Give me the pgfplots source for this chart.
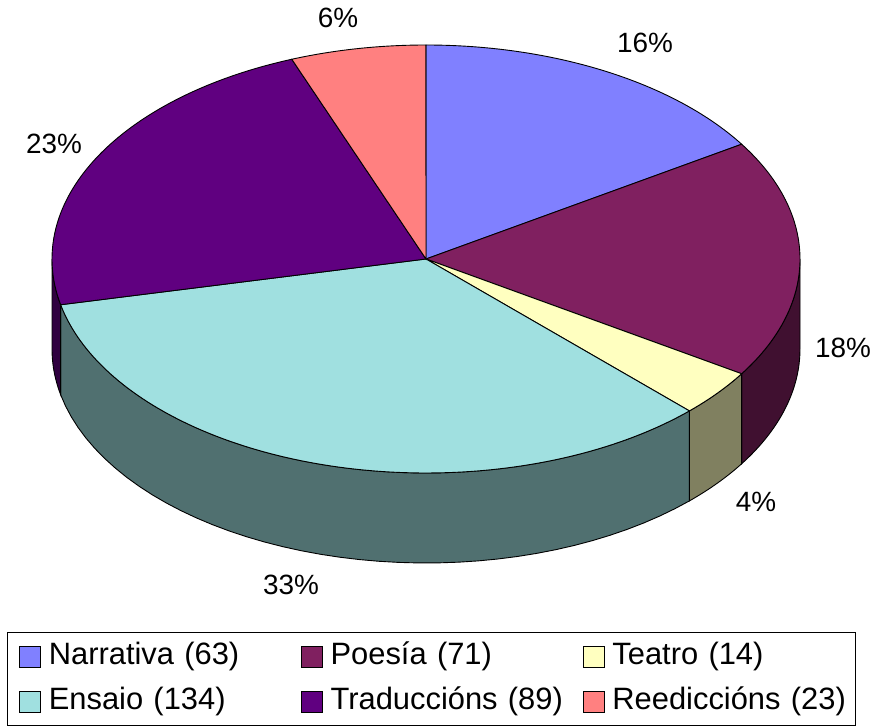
\documentclass[border=0pt]{standalone}
\usepackage{fontspec}
\setmainfont{Liberation Sans}
\usepackage{pgfplots}
\pgfplotsset{compat=1.18}

\definecolor{cNar}{HTML}{8080FF}
\definecolor{cPoe}{HTML}{802060}
\definecolor{cPoeS}{HTML}{401030}
\definecolor{cTea}{HTML}{FFFFC0}
\definecolor{cTeaS}{HTML}{808060}
\definecolor{cEns}{HTML}{A0E0E0}
\definecolor{cEnsS}{HTML}{507070}
\definecolor{cTra}{HTML}{600080}
\definecolor{cTraS}{HTML}{300040}
\definecolor{cRee}{HTML}{FF8080}

% data
\def\vNar{63}\def\vPoe{71}\def\vTea{14}\def\vEns{134}\def\vTra{89}\def\vRee{23}
\pgfmathsetmacro\tot{\vNar+\vPoe+\vTea+\vEns+\vTra+\vRee}
\pgfmathsetmacro\aA{90}
\pgfmathsetmacro\aB{\aA-(\vNar/\tot)*360}
\pgfmathsetmacro\aC{\aB-(\vPoe/\tot)*360}
\pgfmathsetmacro\aD{\aC-(\vTea/\tot)*360}
\pgfmathsetmacro\aE{\aD-(\vEns/\tot)*360}
\pgfmathsetmacro\aF{\aE-(\vTra/\tot)*360}
\pgfmathsetmacro\aG{\aF-(\vRee/\tot)*360}
% geometry (pixel units)
\def\cx{426}\def\cy{467}\def\rx{374}\def\ry{214}\def\dep{90}

\newcommand\side[3]{%
\addplot[forget plot, fill=#1, draw=black, line width=0.9bp, domain=0:81, samples=82, variable=\t]
 ({\cx+\rx*cos(\t<40.5 ? (#2)+((#3)-(#2))*\t/40 : (#3)+((#2)-(#3))*(\t-41)/40)},
  {(\t<40.5 ? \cy : \cy-\dep)+\ry*sin(\t<40.5 ? (#2)+((#3)-(#2))*\t/40 : (#3)+((#2)-(#3))*(\t-41)/40)}) -- cycle;
}
\newcommand\topslice[3]{%
\addplot[fill=#1, draw=black, line width=0.9bp, domain=#3:#2, samples=100, variable=\t]
 ({\cx+\rx*cos(\t)},{\cy+\ry*sin(\t)}) -- (axis cs:\cx,\cy) -- cycle;
}

\begin{document}
\begin{tikzpicture}
\begin{axis}[
  x=1bp, y=1bp, xmin=0, xmax=876, ymin=0, ymax=726,
  hide axis, clip=false, scale only axis,
  legend columns=3,
  legend image code/.code={\draw[#1, draw=black, line width=0.8bp] (0bp,-10.5bp) rectangle (21bp,10.5bp);},
  legend style={at={(axis cs:19,84)}, anchor=north west, draw=none, fill=none,
    inner sep=0pt, outer sep=0pt, font=\fontsize{31}{37}\selectfont, row sep=15bp,
    nodes={inner sep=0bp, text width=240bp, text height=23bp, text depth=7bp, align=left},
    /tikz/every odd column/.append style={column sep=8bp},
    /tikz/every even column/.append style={column sep=12bp}},
]
\path (axis cs:0,0) rectangle (axis cs:876,726);
\side{cPoeS}{0}{\aC}
\side{cTeaS}{\aC}{\aD}
\side{cEnsS}{\aD}{\aE}
\side{cTraS}{\aE}{-180}
\topslice{cNar}{\aA}{\aB}
\addlegendentry{Narrativa (63)}
\topslice{cPoe}{\aB}{\aC}
\addlegendentry{Poesía (71)}
\topslice{cTea}{\aC}{\aD}
\addlegendentry{Teatro (14)}
\topslice{cEns}{\aD}{\aE}
\addlegendentry{Ensaio (134)}
\topslice{cTra}{\aE}{\aF}
\addlegendentry{Traduccións (89)}
\topslice{cRee}{\aF}{\aG}
\addlegendentry{Reediccións (23)}
\draw[line width=0.9bp] (axis cs:7,0.5) rectangle (axis cs:855,94);
\begin{scope}[font=\fontsize{28}{34}\selectfont]
\node at (axis cs:645,683) {16\%};
\node at (axis cs:843,378) {18\%};
\node at (axis cs:756,224) {4\%};
\node at (axis cs:291,141) {33\%};
\node at (axis cs:54,582) {23\%};
\node at (axis cs:338,708) {6\%};
\end{scope}
\end{axis}
\end{tikzpicture}
\end{document}
